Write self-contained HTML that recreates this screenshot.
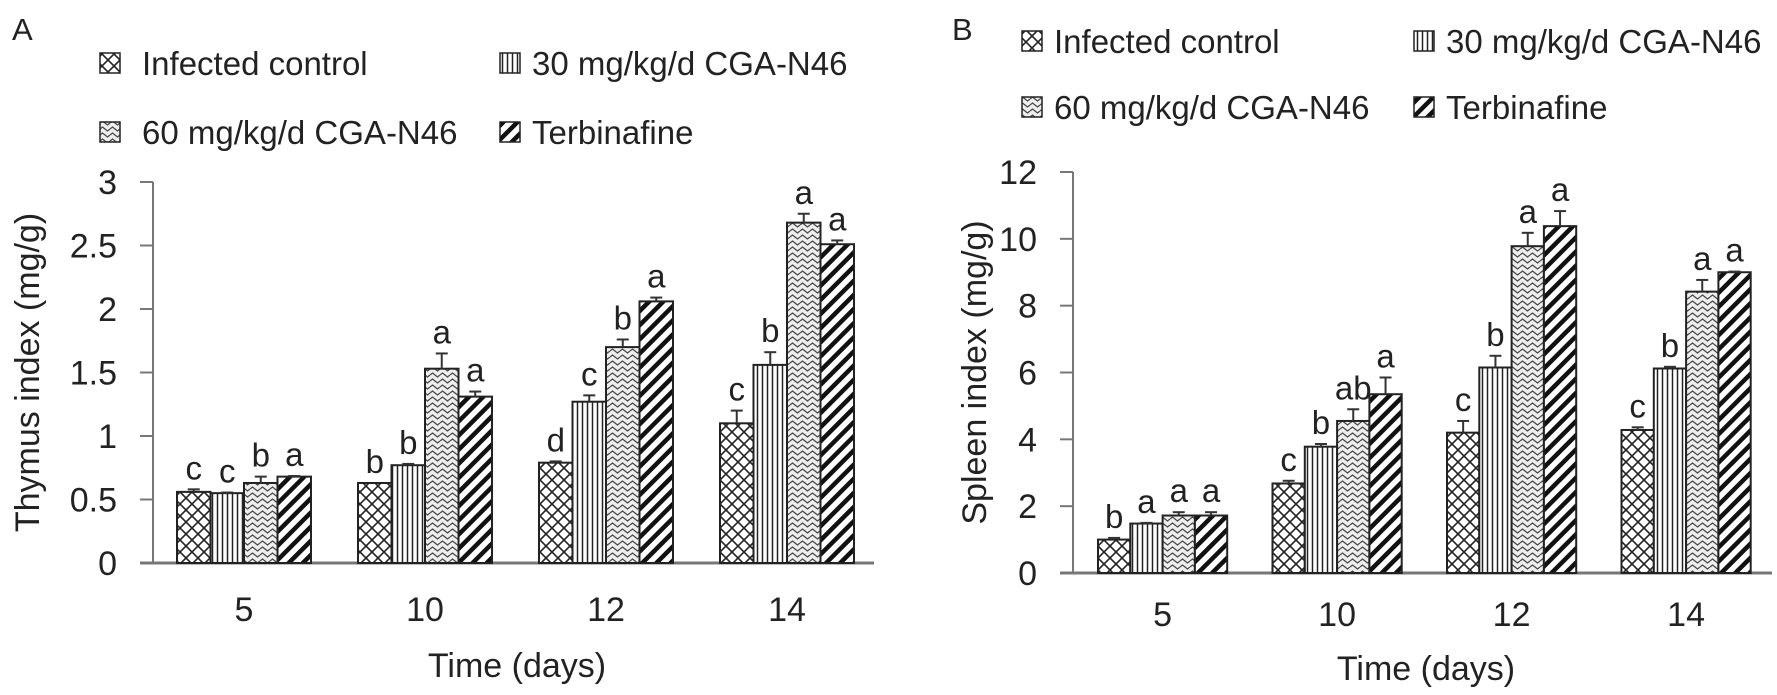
<!DOCTYPE html>
<html><head><meta charset="utf-8"><style>
body{margin:0;background:#fff;}
svg{display:block;font-family:"Liberation Sans",Arial,sans-serif;}
</style></head><body>
<svg id="fig" width="1777" height="695" viewBox="0 0 1777 695">
<defs>
<pattern id="pCross" width="12" height="12" patternUnits="userSpaceOnUse"><rect width="12" height="12" fill="#fff"/><path d="M0,0L12,12M12,0L0,12" stroke="#222" stroke-width="1.6"/></pattern>
<pattern id="pVert" width="5" height="10" patternUnits="userSpaceOnUse"><rect width="5" height="10" fill="#fff"/><path d="M2.5,0V10" stroke="#222" stroke-width="1.5"/></pattern>
<pattern id="pWave" width="10" height="6" patternUnits="userSpaceOnUse"><rect width="10" height="6" fill="#eee"/><path d="M0,3L2.5,1L5,3L7.5,5L10,3" stroke="#444" stroke-width="1.2" fill="none"/></pattern>
<pattern id="pDiag" width="10" height="10" patternUnits="userSpaceOnUse" patternTransform="rotate(45)"><rect width="10" height="10" fill="#fff"/><rect x="0" y="0" width="4.5" height="10" fill="#111"/></pattern>
</defs>
</svg>
<script>
const categories=["5","10","12","14"];
const seriesNames=["Infected control","30 mg/kg/d CGA-N46","60 mg/kg/d CGA-N46","Terbinafine"];
const thymusInfected=[0.56,0.63,0.79,1.10];
const thymus30=[0.55,0.77,1.27,1.56];
const thymus60=[0.63,1.53,1.70,2.68];
const thymusTerb=[0.68,1.31,2.06,2.51];
const thymusErr=[[0.02,0,0.01,0.1],[0.005,0.01,0.05,0.1],[0.05,0.12,0.06,0.07],[0.005,0.04,0.03,0.03]];
const thymusLetters=[["c","b","d","c"],["c","b","c","b"],["b","a","b","a"],["a","a","a","a"]];
const thymusTicks=["0","0.5","1","1.5","2","2.5","3"];
const thymusTickVals=[0,0.5,1,1.5,2,2.5,3];
const spleenInfected=[1.0,2.68,4.2,4.28];
const spleen30=[1.48,3.78,6.15,6.12];
const spleen60=[1.72,4.55,9.78,8.42];
const spleenTerb=[1.72,5.35,10.38,9.0];
const spleenErr=[[0.05,0.08,0.35,0.08],[0.02,0.08,0.35,0.05],[0.1,0.35,0.4,0.35],[0.1,0.5,0.45,0.02]];
const spleenLetters=[["b","c","c","c"],["a","b","b","b"],["a","ab","a","a"],["a","a","a","a"]];
const spleenTicks=["0","2","4","6","8","10","12"];
const spleenTickVals=[0,2,4,6,8,10,12];

const NS="http://www.w3.org/2000/svg";
const svg=document.getElementById('fig');
const fills=["url(#pCross)","url(#pVert)","url(#pWave)","url(#pDiag)"];
function mk(tag,attrs,parent){const e=document.createElementNS(NS,tag);for(const k in attrs)e.setAttribute(k,attrs[k]);(parent||svg).appendChild(e);return e;}
function txt(s,attrs,parent){const e=mk('text',attrs,parent);e.textContent=s;return e;}

function panel(cfg){
  const g=mk('g',{});
  
  
  const y=v=>cfg.y0-(v-cfg.ymin)/(cfg.ymax-cfg.ymin)*(cfg.y0-cfg.ytop);
  const x=(ci,si)=>cfg.g0+ci*cfg.gstep+si*cfg.bw;
  const ya=mk('line',{x1:cfg.ax,x2:cfg.ax,y1:y(cfg.ymax),y2:cfg.y0,stroke:'#777','stroke-width':2},g);
  
  const xa=mk('line',{x1:cfg.xs,x2:cfg.xe,y1:cfg.y0,y2:cfg.y0,stroke:'#777','stroke-width':3},g);
  
  cfg.tickVals.forEach((v,i)=>{
    mk('line',{x1:cfg.ax-13,x2:cfg.ax,y1:y(v),y2:y(v),stroke:'#777','stroke-width':2},g);
    const t=txt(cfg.ticks[i],{x:cfg.ax-36,y:y(v)+12,'text-anchor':'end','font-size':34,fill:'#222'},g);
    
  });
  categories.forEach((c,ci)=>{
    const t=txt(c,{x:cfg.g0+ci*cfg.gstep+2*cfg.bw,y:cfg.catY,'text-anchor':'middle','font-size':34,fill:'#222'},g);
    
    cfg.series.forEach((s,si)=>{
      const v=s[ci],e=cfg.err[si][ci],bx=x(ci,si);
      const r=mk('rect',{x:bx,y:y(v),width:cfg.bw,height:cfg.y0-y(v),fill:fills[si],stroke:'#222','stroke-width':2},g);
      
      const cx=bx+cfg.bw/2;
      if(e>0){
        mk('line',{x1:cx,x2:cx,y1:y(v),y2:y(v+e),stroke:'#333','stroke-width':2},g);
        mk('line',{x1:cx-6,x2:cx+6,y1:y(v+e),y2:y(v+e),stroke:'#333','stroke-width':2},g);
      }
      const l=txt(cfg.letters[si][ci],{x:cx,y:y(v+e)-10,'text-anchor':'middle','font-size':33,fill:'#222'},g);
      
    });
  });
  const ym=(cfg.y0+y(cfg.ymax))/2;
  const yt=txt(cfg.ytitle,{x:cfg.ytx,y:ym,'text-anchor':'middle','dominant-baseline':'central','font-size':34,fill:'#222',transform:`rotate(-90 ${cfg.ytx} ${ym})`},g);
  
  const xt=txt('Time (days)',{x:cfg.xtx,y:cfg.xtY,'text-anchor':'middle','font-size':34,fill:'#222'},g);
  
  const pl=txt(cfg.label,{x:cfg.lx,y:40,'font-size':31,fill:'#222'},g);
  
  cfg.leg.forEach((p,i)=>{
    const lg=mk('g',{},g);
    
    mk('rect',{x:p[0],y:p[1]-10,width:20,height:20,fill:fills[i],stroke:'#222','stroke-width':1.5},lg);
    txt(seriesNames[i],{x:p[0]+p[2],y:p[1]+12,'font-size':33,fill:'#222'},lg);
  });
}
panel({name:'thymus-chart',key:'thymus',label:'A',lx:12,ymin:0,ymax:3,y0:563,ytop:182,ax:153,xs:140,xe:874,
  g0:177,gstep:181,bw:33.5,series:[thymusInfected,thymus30,thymus60,thymusTerb],err:thymusErr,letters:thymusLetters,
  ticks:thymusTicks,tickVals:thymusTickVals,catY:621,ytitle:'Thymus index (mg/g)',ytx:28,xtx:517,xtY:677,
  leg:[[100,63,42],[500,63,32],[100,132,42],[500,132,32]]});
panel({name:'spleen-chart',key:'spleen',label:'B',lx:952,ymin:0,ymax:12,y0:573,ytop:172,ax:1073,xs:1060,xe:1772,
  g0:1098,gstep:174.5,bw:32.3,series:[spleenInfected,spleen30,spleen60,spleenTerb],err:spleenErr,letters:spleenLetters,
  ticks:spleenTicks,tickVals:spleenTickVals,catY:626,ytitle:'Spleen index (mg/g)',ytx:975,xtx:1426,xtY:680,
  leg:[[1022,41,32],[1414,41,32],[1022,107,32],[1414,107,32]]});
</script>
</body></html>
